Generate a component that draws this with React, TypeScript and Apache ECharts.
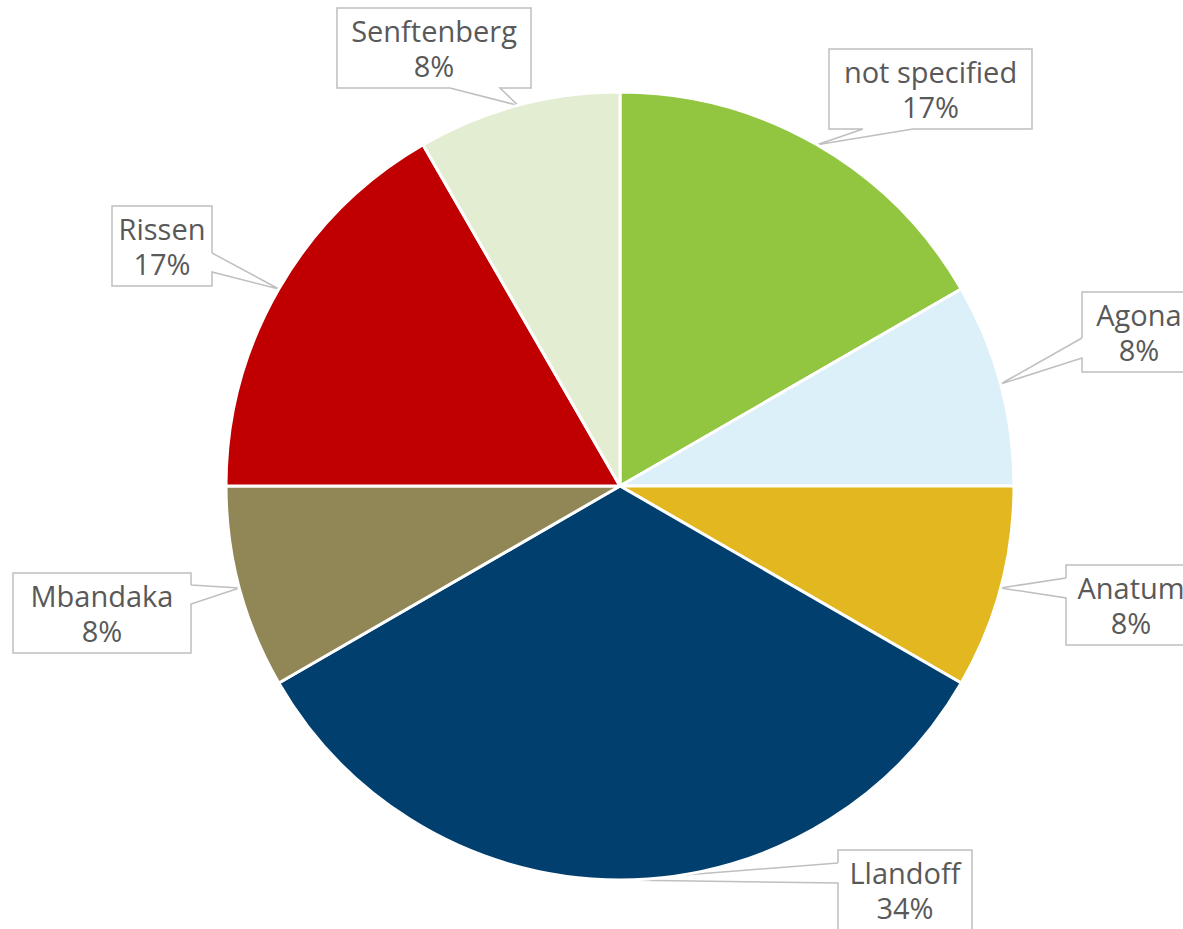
import React, { useEffect, useRef } from "react";
import * as echarts from "echarts";

const names = ["not specified", "Agona", "Anatum", "Llandoff", "Mbandaka", "Rissen", "Senftenberg"];
const counts = [2, 1, 1, 4, 1, 2, 1];
const pctLabels = ["17%", "8%", "8%", "34%", "8%", "17%", "8%"];
const colors = ["#92C540", "#DCF0FA", "#E3B71F", "#003F6E", "#918655", "#C00000", "#E3EDD2"];

const CENTER = [620, 486];
const RADIUS = 394;

// callout box layout (centre, size, side of the pointer and its base positions)
const callouts = [
  { cx: 930.5, cy: 89, w: 203, h: 80, side: "b", a: 863, b: 913 },
  { cx: 1139, cy: 332, w: 114, h: 80, side: "l", a: 338, b: 358 },
  { cx: 1131, cy: 605, w: 130, h: 80, side: "l", a: 578, b: 598 },
  { cx: 905, cy: 890, w: 134, h: 80, side: "l", a: 863, b: 883 },
  { cx: 102, cy: 613, w: 178, h: 80, side: "r", a: 585, b: 604 },
  { cx: 162, cy: 246, w: 100, h: 80, side: "r", a: 253, b: 272 },
  { cx: 434, cy: 48, w: 194, h: 80, side: "b", a: 450, b: 500 },
];

function sliceAnchor(idx: number): number[] {
  const total = counts.reduce((s, v) => s + v, 0);
  let cum = 0;
  for (let i = 0; i < idx; i++) cum += counts[i];
  const theta = (2 * Math.PI * (cum + counts[idx] / 2)) / total;
  return [CENTER[0] + RADIUS * Math.sin(theta), CENTER[1] - RADIUS * Math.cos(theta)];
}

export default function App() {
  const ref = useRef<HTMLDivElement>(null);
  useEffect(() => {
    if (!ref.current) return;
    const chart = echarts.init(ref.current, null, { renderer: "svg" });
    const data = names.map((n, i) => ({ name: n, value: counts[i], itemStyle: { color: colors[i] } }));
    chart.setOption({
      animation: false,
      backgroundColor: "#ffffff",
      series: [
        {
          type: "pie",
          center: CENTER,
          radius: RADIUS,
          startAngle: 90,
          clockwise: true,
          avoidLabelOverlap: false,
          data,
          itemStyle: { borderColor: "#ffffff", borderWidth: 3 },
          label: {
            show: true,
            position: "outside",
            formatter: (p: any) => p.name + "\n" + pctLabels[p.dataIndex],
            color: "#595959",
            fontSize: 29,
            lineHeight: 35,
            fontFamily: "Open Sans",
            align: "center",
          },
          labelLine: {
            show: true,
            length: 10,
            length2: 10,
            lineStyle: { color: "#BFBFBF", width: 1.5 },
          },
          emphasis: { disabled: true },
          labelLayout: (params: any) => {
            const c = callouts[params.dataIndex];
            const L = c.cx - c.w / 2;
            const R = c.cx + c.w / 2;
            const T = c.cy - c.h / 2;
            const B = c.cy + c.h / 2;
            const anchor = sliceAnchor(params.dataIndex);
            let pts: number[][];
            if (c.side === "l") {
              pts = [[L, c.a], [L, T], [R, T], [R, B], [L, B], [L, c.b], anchor, [L, c.a]];
            } else if (c.side === "r") {
              pts = [[R, c.a], [R, T], [L, T], [L, B], [R, B], [R, c.b], anchor, [R, c.a]];
            } else {
              pts = [[c.a, B], [L, B], [L, T], [R, T], [R, B], [c.b, B], anchor, [c.a, B]];
            }
            return {
              x: c.cx,
              y: c.cy,
              align: "center",
              verticalAlign: "middle",
              labelLinePoints: pts,
            };
          },
        },
      ],
    });
    return () => chart.dispose();
  }, []);
  return (
    <div
      ref={ref}
      style={{ position: "absolute", left: 0, top: 0, width: 1183, height: 929 }}
    />
  );
}
